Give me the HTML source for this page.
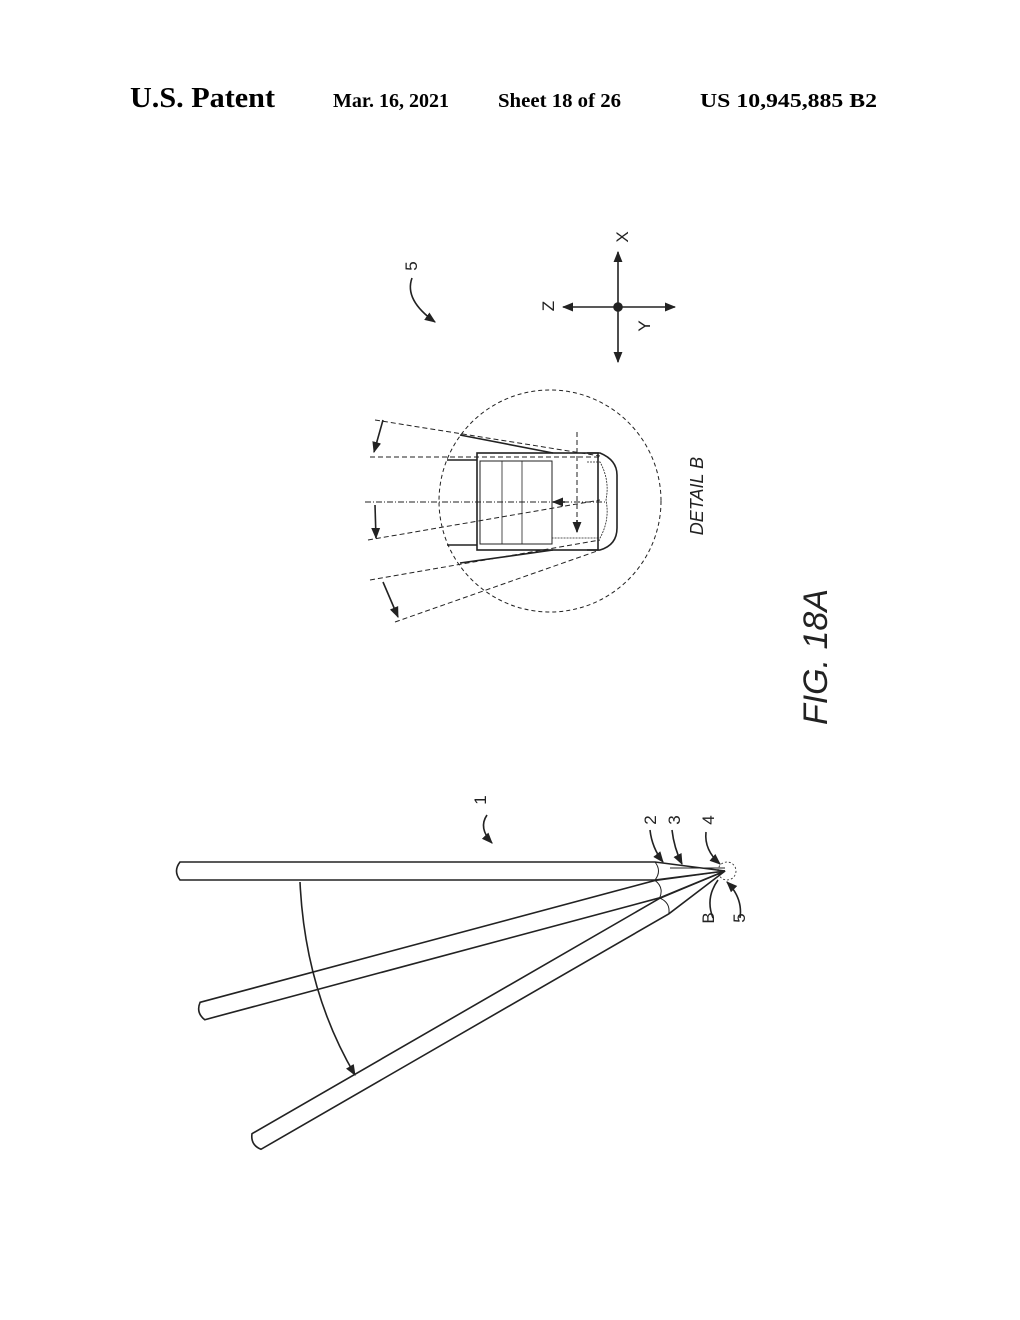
<!DOCTYPE html>
<html><head><meta charset="utf-8"><style>
html,body{margin:0;padding:0;background:#fff;}
svg{display:block;}
</style></head><body>
<svg width="1020" height="1320" viewBox="0 0 1020 1320" xmlns="http://www.w3.org/2000/svg" font-family="Liberation Serif, serif">
<defs>
<marker id="a" viewBox="0 0 10 10" refX="9" refY="5" markerWidth="7" markerHeight="7" orient="auto-start-reverse"><path d="M0,1 L10,5 L0,9 z" fill="#222"/></marker>
</defs>
<text x="130" y="107" font-size="29" font-weight="bold" textLength="145" lengthAdjust="spacingAndGlyphs">U.S. Patent</text>
<text x="333" y="107" font-size="20" font-weight="bold" textLength="116" lengthAdjust="spacingAndGlyphs">Mar. 16, 2021</text>
<text x="498" y="107" font-size="20" font-weight="bold" textLength="123" lengthAdjust="spacingAndGlyphs">Sheet 18 of 26</text>
<text x="700" y="107" font-size="20" font-weight="bold" textLength="177" lengthAdjust="spacingAndGlyphs">US 10,945,885 B2</text>

<g stroke="#222" fill="none" stroke-width="1.6">
<line x1="618" y1="252" x2="618" y2="362" marker-start="url(#a)" marker-end="url(#a)"/>
<line x1="563" y1="307" x2="675" y2="307" marker-start="url(#a)" marker-end="url(#a)"/>
<circle cx="618" cy="307" r="4" fill="#222"/>
<path d="M412,278 Q404,300 435,322" marker-end="url(#a)"/>
<circle cx="550" cy="501" r="111" stroke-dasharray="4,3" stroke-width="1"/>
<rect x="477" y="453" width="121" height="97" stroke-width="1.6"/>
<rect x="480" y="461" width="72" height="83" stroke-width="1"/>
<line x1="502" y1="461" x2="502" y2="544" stroke-width="0.8"/>
<line x1="522" y1="461" x2="522" y2="544" stroke-width="0.8"/>
<path d="M587,453 L600,453 Q617,460 617,475 L617,528 Q617,545 600,550 L587,550"/>
<path d="M587,462 L600,462 Q610,480 606,500 Q610,520 600,538 L552,538" stroke-width="0.8" stroke-dasharray="2,1"/>
<line x1="460" y1="435" x2="553" y2="453"/>
<line x1="447" y1="460" x2="477" y2="460"/>
<line x1="447" y1="545" x2="477" y2="545"/>
<line x1="460" y1="563" x2="553" y2="550"/>
<g stroke-width="1" stroke-dasharray="5,3">
<line x1="375" y1="420" x2="600" y2="456"/>
<line x1="370" y1="457" x2="600" y2="457"/>
<line x1="365" y1="502" x2="605" y2="502" stroke-dasharray="6,2,1,2"/>
<line x1="368" y1="540" x2="600" y2="500"/>
<line x1="370" y1="580" x2="600" y2="540"/>
<line x1="395" y1="622" x2="600" y2="550"/>
<line x1="577" y1="432" x2="577" y2="530"/>
</g>
<line x1="383" y1="420" x2="374" y2="452" marker-end="url(#a)"/>
<line x1="375" y1="505" x2="376" y2="538" marker-end="url(#a)"/>
<line x1="383" y1="582" x2="398" y2="617" marker-end="url(#a)"/>
<line x1="577" y1="520" x2="577" y2="532" marker-end="url(#a)"/>
<line x1="565" y1="502" x2="553" y2="502" marker-end="url(#a)"/>
<g transform="rotate(-30 725 871)">
<path d="M184,862 L655,862 L725,871 L655,880 L184,880 Q177,871 184,862 Z" fill="#fff"/>
<path d="M655,862 Q662,871 655,880" stroke-width="1"/>
</g>
<g transform="rotate(-15 725 871)">
<path d="M184,862 L655,862 L725,871 L655,880 L184,880 Q177,871 184,862 Z" fill="#fff"/>
<path d="M655,862 Q662,871 655,880" stroke-width="1"/>
</g>
<path d="M180,862 L655,862 L725,871 L655,880 L180,880 Q173,871 180,862 Z" fill="#fff"/>
<path d="M655,862 Q662,871 655,880" stroke-width="1"/>
<line x1="670" y1="868" x2="725" y2="868" stroke-width="1"/>
<circle cx="727" cy="871" r="9" stroke-dasharray="2,2" stroke-width="0.8"/>
<path d="M300,882 Q305,990 355,1075" marker-end="url(#a)"/>
<path d="M487,815 Q478,828 492,843" marker-end="url(#a)"/>
<path d="M650,830 Q652,848 663,862" marker-end="url(#a)"/>
<path d="M672,830 Q674,848 682,864" marker-end="url(#a)"/>
<path d="M706,832 Q704,850 720,864" marker-end="url(#a)"/>
<path d="M713,918 Q705,898 718,880"/>
<path d="M740,918 Q743,898 727,882" marker-end="url(#a)"/>
</g>
<g font-family="Liberation Sans, sans-serif" fill="#222" font-size="17">
<text transform="translate(628,237) rotate(-90)" text-anchor="middle">X</text>
<text transform="translate(554,306) rotate(-90)" text-anchor="middle">Z</text>
<text transform="translate(650,326) rotate(-90)" text-anchor="middle">Y</text>
<text transform="translate(417,266) rotate(-90)" text-anchor="middle">5</text>
<text transform="translate(486,800) rotate(-90)" text-anchor="middle">1</text>
<text transform="translate(656,820) rotate(-90)" text-anchor="middle">2</text>
<text transform="translate(680,820) rotate(-90)" text-anchor="middle">3</text>
<text transform="translate(714,820) rotate(-90)" text-anchor="middle">4</text>
<text transform="translate(714,918) rotate(-90)" text-anchor="middle">B</text>
<text transform="translate(745,918) rotate(-90)" text-anchor="middle">5</text>
<text transform="translate(703,496) rotate(-90)" text-anchor="middle" font-style="italic" font-size="18">DETAIL B</text>
<text transform="translate(827,657) rotate(-90)" text-anchor="middle" font-style="italic" font-size="34">FIG. 18A</text>
</g>
</svg>
</body></html>
